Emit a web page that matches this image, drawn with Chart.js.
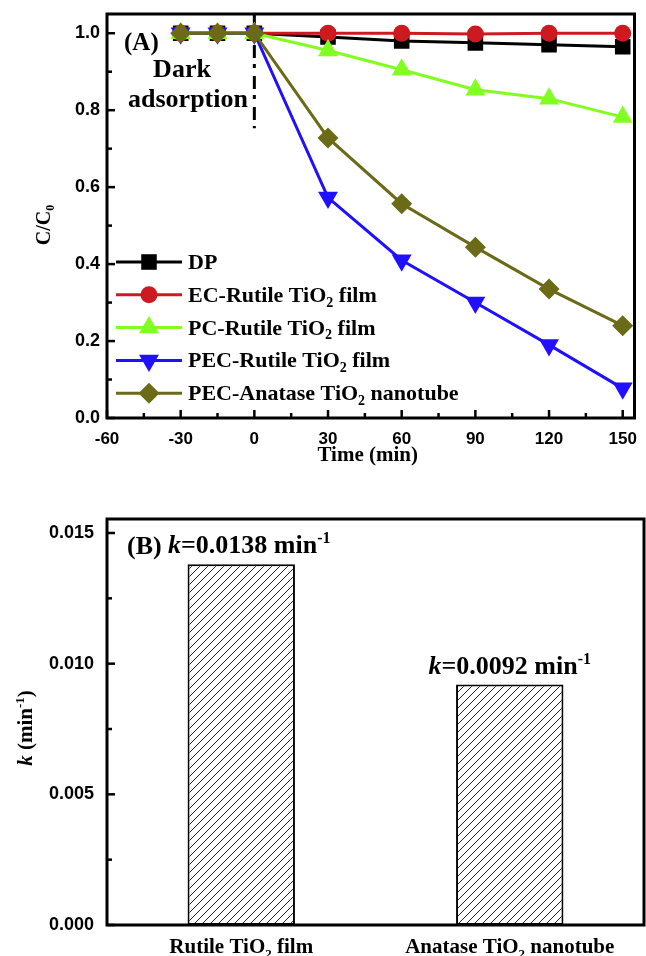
<!DOCTYPE html>
<html lang="en">
<head>
    <meta charset="UTF-8">
    <title>C/C0 vs time and rate constants</title>
    <script src="https://cdn.jsdelivr.net/npm/chart.js@4.4.1/dist/chart.umd.min.js"></script>
    <style>
        body { margin: 0; background: #ffffff; }
        #wrap { position: relative; width: 646px; height: 956px; }
        .panel { position: absolute; left: 0; width: 646px; height: 478px; }
    </style>
</head>
<body>
<div id="wrap">
    <div class="panel" style="top:0"><canvas id="chartA"></canvas></div>
    <div class="panel" style="top:478px"><canvas id="chartB"></canvas></div>
</div>

<script>
    // ---- panel (A) data ----
    const times = [-30, -15, 0, 30, 60, 90, 120, 150];
    const seriesDP = [1, 1, 1, 0.99, 0.98, 0.975, 0.97, 0.965];
    const seriesEC = [1, 1, 1, 1.0, 1.0, 0.998, 1.0, 1.0];
    const seriesPC = [1, 1, 1, 0.955, 0.905, 0.853, 0.83, 0.782];
    const seriesPEC = [1, 1, 1, 0.573, 0.41, 0.3, 0.19, 0.077];
    const seriesAnatase = [1, 1, 1, 0.728, 0.557, 0.444, 0.335, 0.24];
    const namesA = ['DP', 'EC-Rutile TiO_2 film', 'PC-Rutile TiO_2 film', 'PEC-Rutile TiO_2 film', 'PEC-Anatase TiO_2 nanotube'];
    const xTicksA = [-60, -30, 0, 30, 60, 90, 120, 150];
    const yTicksA = [0, 0.2, 0.4, 0.6, 0.8, 1.0];

    // ---- panel (B) data ----
    const catalysts = ['Rutile TiO_2 film', 'Anatase TiO_2 nanotube'];
    const rateK = [0.0138, 0.0092];
    const rateLabels = ['*k*=0.0138 min^{-1}', '*k*=0.0092 min^{-1}'];
    const yTicksB = [0, 0.005, 0.010, 0.015];

    const allSeries = [seriesDP, seriesEC, seriesPC, seriesPEC, seriesAnatase];
    const looks = [
        { color: '#000000', style: 'rect', radius: 11, rotation: 0 },
        { color: '#cc1a20', style: 'circle', radius: 8.5, rotation: 0 },
        { color: '#80ff20', style: 'triangle', radius: 11.5, rotation: 0 },
        { color: '#2010ff', style: 'triangle', radius: 11.5, rotation: 180 },
        { color: '#6b6a17', style: 'rectRot', radius: 10.5, rotation: 0 }
    ];

    const serif = '"Liberation Serif", "Times New Roman", serif';
    const sans = '"Liberation Sans", Arial, sans-serif';

    // tiny markup: X_2 subscript, ^{..} superscript, *..* italic
    function parseRich(text) {
        const segs = [];
        let buf = '', italic = false, i = 0;
        const push = (t, mode) => { if (t) segs.push({ t, mode, italic }); };
        while (i < text.length) {
            const c = text[i];
            if (c === '_') { push(buf, 'n'); buf = ''; push(text[i + 1], 'sub'); i += 2; continue; }
            if (c === '^') {
                push(buf, 'n'); buf = '';
                const end = text.indexOf('}', i);
                push(text.slice(i + 2, end), 'sup'); i = end + 1; continue;
            }
            if (c === '*') { push(buf, 'n'); buf = ''; italic = !italic; i++; continue; }
            buf += c; i++;
        }
        push(buf, 'n');
        return segs;
    }

    function drawRich(ctx, text, x, y, size, align, angle) {
        const segs = parseRich(text);
        const fontFor = s => (s.italic ? 'italic ' : '') + 'bold ' +
            (s.mode === 'n' ? size : Math.round(size * 0.62)) + 'px ' + serif;
        let total = 0;
        segs.forEach(s => { ctx.font = fontFor(s); s.w = ctx.measureText(s.t).width; total += s.w; });
        ctx.save();
        ctx.translate(x, y);
        if (angle) ctx.rotate(angle);
        ctx.fillStyle = '#000';
        ctx.textAlign = 'left';
        ctx.textBaseline = 'alphabetic';
        let cx = align === 'center' ? -total / 2 : (align === 'right' ? -total : 0);
        segs.forEach(s => {
            ctx.font = fontFor(s);
            const dy = s.mode === 'sub' ? size * 0.22 : (s.mode === 'sup' ? -size * 0.38 : 0);
            ctx.fillText(s.t, cx, dy);
            cx += s.w;
        });
        ctx.restore();
    }

    // box around plot area + inward major/minor ticks
    const framePlugin = {
        id: 'frame',
        afterDraw(chart, args, opts) {
            const { ctx, chartArea: a, scales } = chart;
            ctx.save();
            ctx.strokeStyle = '#000';
            ctx.lineWidth = 3;
            ctx.strokeRect(a.left, a.top, a.right - a.left, a.bottom - a.top);
            ctx.lineWidth = 2.5;
            const marks = (vals) => {
                const out = [];
                vals.forEach((v, i) => {
                    out.push([v, 8]);
                    if (i < vals.length - 1) out.push([(v + vals[i + 1]) / 2, 5]);
                });
                return out;
            };
            marks(opts.yTicks).forEach(([v, len]) => {
                const p = scales.y.getPixelForValue(v);
                ctx.beginPath(); ctx.moveTo(a.left, p); ctx.lineTo(a.left + len, p); ctx.stroke();
            });
            if (opts.xTicks) {
                marks(opts.xTicks).forEach(([v, len]) => {
                    const p = scales.x.getPixelForValue(v);
                    ctx.beginPath(); ctx.moveTo(p, a.bottom); ctx.lineTo(p, a.bottom - len); ctx.stroke();
                });
            }
            ctx.restore();
        }
    };

    function drawMarker(ctx, look, x, y) {
        ctx.fillStyle = look.color;
        ctx.strokeStyle = look.color;
        if (Chart.helpers && Chart.helpers.drawPoint) {
            Chart.helpers.drawPoint(ctx, { pointStyle: look.style, rotation: look.rotation, radius: look.radius, borderWidth: 0 }, x, y);
        }
    }

    const panelAPlugin = {
        id: 'panelA',
        beforeDatasetsDraw(chart) {
            const { ctx, chartArea: a, scales } = chart;
            const x0 = scales.x.getPixelForValue(0);
            ctx.save();
            ctx.strokeStyle = '#000';
            ctx.lineWidth = 3;
            ctx.setLineDash([13, 6, 4, 8]);
            ctx.beginPath();
            ctx.moveTo(x0, a.top);
            ctx.lineTo(x0, scales.y.getPixelForValue(0.753));
            ctx.stroke();
            ctx.restore();
        },
        afterDraw(chart) {
            const { ctx, chartArea: a } = chart;
            drawRich(ctx, '(A)', a.left + 17, a.top + 36, 25, 'left');
            drawRich(ctx, 'Dark', a.left + 75, a.top + 63, 26, 'center');
            drawRich(ctx, 'adsorption', a.left + 81, a.top + 93, 26, 'center');
            drawRich(ctx, 'Time (min)', (a.left + a.right) / 2 - 3, 461, 21, 'center');
            drawRich(ctx, 'C/C_0', 50, 225, 20, 'center', -Math.PI / 2);

            // legend: line + marker + label
            ctx.save();
            chart.data.datasets.forEach((ds, i) => {
                const y = 262 + i * 32.8;
                ctx.strokeStyle = looks[i].color;
                ctx.lineWidth = 3;
                ctx.beginPath(); ctx.moveTo(a.left + 9, y); ctx.lineTo(a.left + 75, y); ctx.stroke();
                drawMarker(ctx, looks[i], a.left + 42, y);
                drawRich(ctx, ds.label, a.left + 81, y + 7, 22, 'left');
            });
            ctx.restore();
        }
    };

    new Chart(document.getElementById('chartA'), {
        type: 'line',
        data: {
            datasets: allSeries.map((vals, i) => ({
                label: namesA[i],
                data: times.map((t, j) => ({ x: t, y: vals[j] })),
                borderColor: looks[i].color,
                backgroundColor: looks[i].color,
                borderWidth: 3,
                pointStyle: looks[i].style,
                pointRotation: looks[i].rotation,
                pointRadius: looks[i].radius,
                pointBorderWidth: 0,
                order: allSeries.length - i
            }))
        },
        options: {
            responsive: true,
            maintainAspectRatio: false,
            animation: false,
            events: [],
            layout: { padding: { top: 14, right: 2, left: 0, bottom: 0 } },
            plugins: {
                legend: { display: false },
                tooltip: { enabled: false },
                frame: { xTicks: xTicksA, yTicks: yTicksA }
            },
            scales: {
                x: {
                    type: 'linear', min: -60, max: 154.8,
                    grid: { display: false, drawTicks: false }, border: { display: false },
                    ticks: { stepSize: 30, color: '#000', padding: 11, maxRotation: 0,
                             font: { family: sans, weight: 'bold', size: 17 } },
                    afterBuildTicks: s => { s.ticks = xTicksA.map(v => ({ value: v })); },
                    afterFit: s => { s.height = 60; s.paddingLeft = 0; s.paddingRight = 0; }
                },
                y: {
                    min: 0, max: 1.05,
                    grid: { display: false, drawTicks: false }, border: { display: false },
                    ticks: { stepSize: 0.2, color: '#000', padding: 7,
                             font: { family: sans, weight: 'bold', size: 18 },
                             callback: v => Number(v).toFixed(1) },
                    afterBuildTicks: s => { s.ticks = yTicksA.map(v => ({ value: v })); },
                    afterFit: s => { s.width = 107; s.paddingTop = 0; s.paddingBottom = 0; }
                }
            }
        },
        plugins: [framePlugin, panelAPlugin]
    });

    // ---- panel (B) ----
    function hatchPattern(ctx) {
        const c = document.createElement('canvas');
        c.width = 8; c.height = 8;
        const g = c.getContext('2d');
        g.fillStyle = '#ffffff'; g.fillRect(0, 0, 8, 8);
        g.strokeStyle = '#222222'; g.lineWidth = 1;
        g.beginPath();
        g.moveTo(0, 8); g.lineTo(8, 0);
        g.moveTo(-1, 1); g.lineTo(1, -1);
        g.moveTo(7, 9); g.lineTo(9, 7);
        g.stroke();
        return ctx.createPattern(c, 'repeat');
    }

    const panelBPlugin = {
        id: 'panelB',
        afterDraw(chart) {
            const { ctx, chartArea: a, scales } = chart;
            const meta = chart.getDatasetMeta(0);
            drawRich(ctx, '(B)', a.left + 20, meta.data[0].y - 10, 26, 'left');
            meta.data.forEach((bar, i) => {
                drawRich(ctx, rateLabels[i], bar.x + (i === 0 ? 8 : 0), bar.y - 11, 26, 'center');
            });
            catalysts.forEach((name, i) => {
                drawRich(ctx, name, scales.x.getPixelForValue(i), chart.height - 3, 21, 'center');
            });
            drawRich(ctx, '*k* (min^{-1})', 32, 250, 21, 'center', -Math.PI / 2);
        }
    };

    const ctxB = document.getElementById('chartB').getContext('2d');
    new Chart(ctxB, {
        type: 'bar',
        data: {
            labels: catalysts,
            datasets: [{
                data: rateK,
                backgroundColor: hatchPattern(ctxB),
                borderColor: '#000000',
                borderWidth: 2,
                borderSkipped: false,
                categoryPercentage: 0.4,
                barPercentage: 1
            }]
        },
        options: {
            responsive: true,
            maintainAspectRatio: false,
            animation: false,
            events: [],
            layout: { padding: { top: 41, right: 2, left: 0, bottom: 0 } },
            plugins: {
                legend: { display: false },
                tooltip: { enabled: false },
                frame: { yTicks: yTicksB }
            },
            scales: {
                x: {
                    grid: { display: false, drawTicks: false }, border: { display: false },
                    ticks: { display: false },
                    afterFit: s => { s.height = 31; s.paddingLeft = 0; s.paddingRight = 0; }
                },
                y: {
                    min: 0, max: 0.015536,
                    grid: { display: false, drawTicks: false }, border: { display: false },
                    ticks: { stepSize: 0.005, color: '#000', padding: 13,
                             font: { family: sans, weight: 'bold', size: 18 },
                             callback: v => Number(v).toFixed(3) },
                    afterBuildTicks: s => { s.ticks = yTicksB.map(v => ({ value: v })); },
                    afterFit: s => { s.width = 107; s.paddingTop = 0; s.paddingBottom = 0; }
                }
            }
        },
        plugins: [framePlugin, panelBPlugin]
    });
</script>
</body>
</html>
